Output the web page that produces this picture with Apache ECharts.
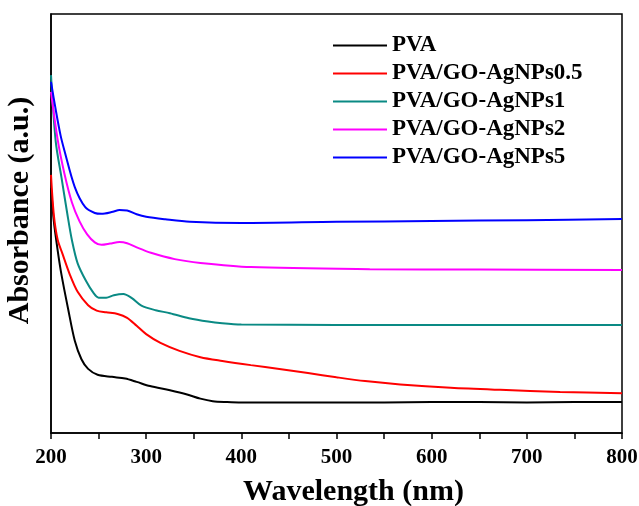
<!DOCTYPE html>
<html>
<head>
<meta charset="utf-8">
<script src="https://cdn.jsdelivr.net/npm/echarts@6/dist/echarts.min.js"></script>
<style>
  html, body { margin: 0; padding: 0; background: #fff; }
  #chart { width: 639px; height: 506px; }
</style>
</head>
<body>
<div id="chart"></div>
<script>
// UV-vis spectra, absorbance in arbitrary units
const seriesNames = ['PVA', 'PVA/GO-AgNPs0.5', 'PVA/GO-AgNPs1', 'PVA/GO-AgNPs2', 'PVA/GO-AgNPs5'];
const seriesColors = ['#000000', '#ff0000', '#0a8a84', '#ff00ff', '#0000ff'];

const pvaWl = [200, 203, 207, 211, 218, 225, 232, 239, 249, 264, 278, 290, 304, 325, 343, 357, 370, 385, 400, 450, 500, 550, 600, 650, 700, 750, 800];
const pvaAbs = [0.585, 0.505, 0.436, 0.378, 0.296, 0.220, 0.176, 0.153, 0.139, 0.134, 0.130, 0.122, 0.112, 0.102, 0.092, 0.082, 0.076, 0.074, 0.073, 0.073, 0.073, 0.073, 0.074, 0.074, 0.073, 0.074, 0.074];

const go05Wl = [200, 203, 207, 212, 220, 228, 239, 248, 258, 270, 280, 290, 300, 315, 335, 357, 380, 410, 440, 470, 500, 530, 567, 620, 672, 735, 800];
const go05Abs = [0.616, 0.520, 0.461, 0.428, 0.377, 0.337, 0.305, 0.292, 0.288, 0.284, 0.275, 0.256, 0.236, 0.215, 0.196, 0.181, 0.172, 0.162, 0.153, 0.143, 0.133, 0.124, 0.116, 0.108, 0.103, 0.098, 0.095];

const go1Wl = [200, 205, 211, 217, 222, 228, 237, 245, 250, 258, 266, 276, 285, 295, 310, 325, 345, 365, 380, 400, 500, 600, 700, 800];
const go1Abs = [0.854, 0.695, 0.610, 0.525, 0.460, 0.405, 0.362, 0.333, 0.323, 0.323, 0.329, 0.332, 0.322, 0.304, 0.293, 0.286, 0.274, 0.266, 0.262, 0.259, 0.258, 0.258, 0.258, 0.258];

const go2Wl = [200, 207, 214, 222, 230, 238, 246, 253, 262, 272, 280, 290, 305, 330, 357, 410, 535, 650, 800];
const go2Abs = [0.814, 0.700, 0.620, 0.550, 0.505, 0.474, 0.455, 0.449, 0.452, 0.456, 0.453, 0.443, 0.430, 0.415, 0.406, 0.396, 0.391, 0.390, 0.389];

const go5Wl = [200, 205, 210, 214, 225, 236, 246, 253, 265, 272, 280, 290, 300, 320, 346, 400, 500, 600, 700, 800];
const go5Abs = [0.838, 0.771, 0.711, 0.675, 0.587, 0.539, 0.525, 0.523, 0.528, 0.532, 0.531, 0.522, 0.516, 0.510, 0.504, 0.501, 0.504, 0.506, 0.508, 0.511];

const xTicks = [200, 300, 400, 500, 600, 700, 800];

const wls = [pvaWl, go05Wl, go1Wl, go2Wl, go5Wl];
const abss = [pvaAbs, go05Abs, go1Abs, go2Abs, go5Abs];

const font = "'Liberation Serif', 'Times New Roman', serif";

const chart = echarts.init(document.getElementById('chart'));
chart.setOption({
  animation: false,
  backgroundColor: '#fff',
  grid: {
    left: 51, top: 14, right: 17, bottom: 73,
    containLabel: false,
    outerBoundsMode: 'none',
    show: true, borderColor: '#000', borderWidth: 1.5, backgroundColor: 'transparent'
  },
  legend: {
    orient: 'vertical',
    left: 333,
    top: 34,
    padding: 0,
    itemWidth: 54,
    itemHeight: 2,
    itemGap: 5,
    icon: 'rect',
    data: seriesNames,
    textStyle: { fontFamily: font, fontWeight: 'bold', fontSize: 23, color: '#000' }
  },
  xAxis: {
    type: 'value',
    min: 200, max: 800, interval: 50,
    name: 'Wavelength (nm)',
    nameLocation: 'middle',
    nameGap: 44,
    nameTextStyle: { fontFamily: font, fontWeight: 'bold', fontSize: 30, color: '#000', padding: [0, 0, 0, 34] },
    axisLine: { lineStyle: { color: '#000', width: 1.5 } },
    axisTick: { inside: false, length: 6, lineStyle: { color: '#000', width: 1.5 } },
    axisLabel: {
      fontFamily: font, fontWeight: 'bold', fontSize: 21, color: '#000', margin: 14,
      formatter: v => xTicks.includes(v) ? String(v) : ''
    },
    splitLine: { show: false }
  },
  yAxis: {
    type: 'value',
    min: 0, max: 1,
    name: 'Absorbance (a.u.)',
    nameLocation: 'middle',
    nameGap: 16,
    nameTextStyle: { fontFamily: font, fontWeight: 'bold', fontSize: 30, color: '#000', padding: [0, 0, 0, 26] },
    axisLine: { show: true, lineStyle: { color: '#000', width: 1.5 } },
    axisTick: { show: false },
    axisLabel: { show: false },
    splitLine: { show: false }
  },
  series: seriesNames.map((n, i) => ({
    name: n,
    type: 'line',
    showSymbol: false,
    symbol: 'none',
    smooth: 0.3,
    color: seriesColors[i],
    lineStyle: { width: 2, color: seriesColors[i] },
    data: wls[i].map((w, j) => [w, abss[i][j]])
  }))
});
</script>
</body>
</html>
